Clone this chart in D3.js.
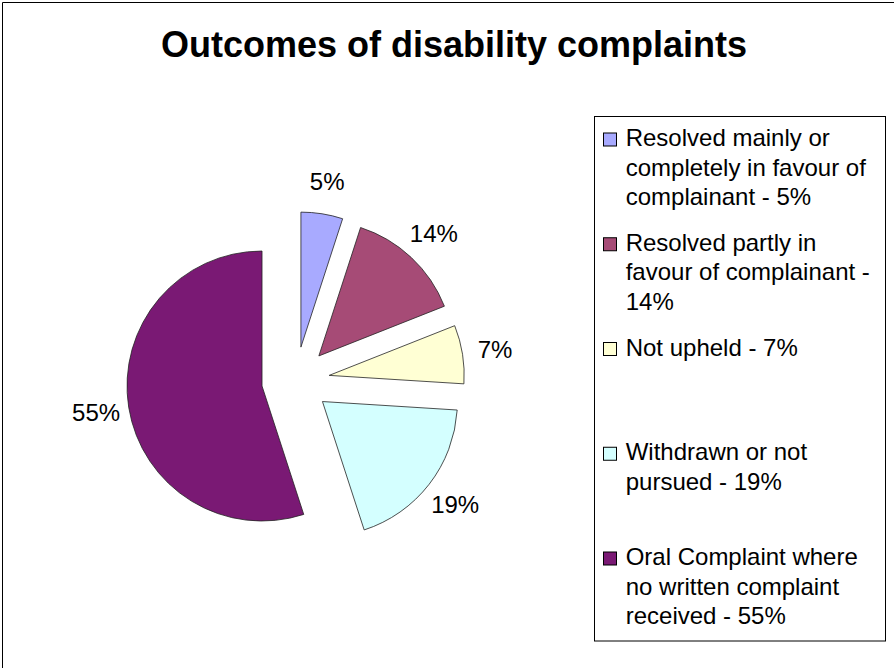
<!DOCTYPE html>
<html>
<head>
<meta charset="utf-8">
<script src="https://cdn.jsdelivr.net/npm/d3@7"></script>
<style>
  html, body { margin: 0; padding: 0; background: #fff; }
  svg { display: block; font-family: "Liberation Sans", Arial, sans-serif; }
</style>
</head>
<body>
<svg id="chart" width="894" height="668"></svg>
<script>
// Outcome categories, in the order the slices run clockwise from 12 o'clock
const categories = [
  "Resolved mainly or completely in favour of complainant",
  "Resolved partly in favour of complainant",
  "Not upheld",
  "Withdrawn or not pursued",
  "Oral Complaint where no written complaint received"
];
// Share of complaints, percent
const shares = [5, 14, 7, 19, 55];
const sliceColors = ["#a8aaff", "#a64b76", "#ffffd4", "#d4ffff", "#7a1974"];
const chartTitle = "Outcomes of disability complaints";

const W = 894, H = 668;
const svg = d3.select("#chart");

// Chart frame
svg.append("path")
  .attr("d", `M2.5,${H} V2.5 H${W}`)
  .attr("fill", "none")
  .attr("stroke", "#000")
  .attr("stroke-width", 1);

// Title
svg.append("text")
  .attr("x", 454)
  .attr("y", 57)
  .attr("text-anchor", "middle")
  .attr("font-size", 36)
  .attr("font-weight", "bold")
  .attr("fill", "#000")
  .text(chartTitle);

// Exploded pie
const cx = 295.6, cy = 380.7, radius = 135, explode = 34, labelRadius = 202;
const pie = d3.pie().sort(null).value(d => d).startAngle(0).endAngle(2 * Math.PI);
const arcs = pie(shares);
const arc = d3.arc().innerRadius(0).outerRadius(radius);

const pieG = svg.append("g").attr("transform", `translate(${cx},${cy})`);
const dir = a => [Math.sin(a), -Math.cos(a)];

pieG.selectAll("path.slice")
  .data(arcs)
  .join("path")
  .attr("class", "slice")
  .attr("d", arc)
  .attr("transform", d => {
    const [ux, uy] = dir((d.startAngle + d.endAngle) / 2);
    return `translate(${ux * explode},${uy * explode})`;
  })
  .attr("fill", (d, i) => sliceColors[i])
  .attr("stroke", "#222")
  .attr("stroke-width", 0.8);

pieG.selectAll("text.pct")
  .data(arcs)
  .join("text")
  .attr("class", "pct")
  .attr("x", d => dir((d.startAngle + d.endAngle) / 2)[0] * labelRadius)
  .attr("y", d => dir((d.startAngle + d.endAngle) / 2)[1] * labelRadius)
  .attr("dy", "0.35em")
  .attr("text-anchor", "middle")
  .attr("font-size", 24)
  .attr("fill", "#000")
  .text(d => d.data + "%");

// Legend
const lg = { x: 594.5, y: 116.5, w: 291, h: 524.5 };
svg.append("rect")
  .attr("x", lg.x).attr("y", lg.y)
  .attr("width", lg.w).attr("height", lg.h)
  .attr("fill", "#fff")
  .attr("stroke", "#000")
  .attr("stroke-width", 1);

const firstBaseline = 146, entryPitch = 104.75, lineStep = 29.5;
const textX = 625.7, maxLineWidth = 256;

categories.forEach((cat, i) => {
  const base = firstBaseline + i * entryPitch;
  svg.append("rect")
    .attr("x", 603.5).attr("y", base - 13)
    .attr("width", 13).attr("height", 13)
    .attr("fill", sliceColors[i])
    .attr("stroke", "#000")
    .attr("stroke-width", 1);

  const t = svg.append("text")
    .attr("x", textX)
    .attr("y", base)
    .attr("font-size", 24)
    .attr("fill", "#000");

  // word-wrap the entry to the legend width
  const words = `${cat} - ${shares[i]}%`.split(" ");
  let line = [];
  let lineNo = 0;
  let tspan = t.append("tspan").attr("x", textX).attr("y", base);
  words.forEach(w => {
    line.push(w);
    tspan.text(line.join(" "));
    if (tspan.node().getComputedTextLength() > maxLineWidth && line.length > 1) {
      line.pop();
      tspan.text(line.join(" "));
      line = [w];
      lineNo++;
      tspan = t.append("tspan").attr("x", textX).attr("y", base + lineNo * lineStep).text(w);
    }
  });
});
</script>
</body>
</html>
